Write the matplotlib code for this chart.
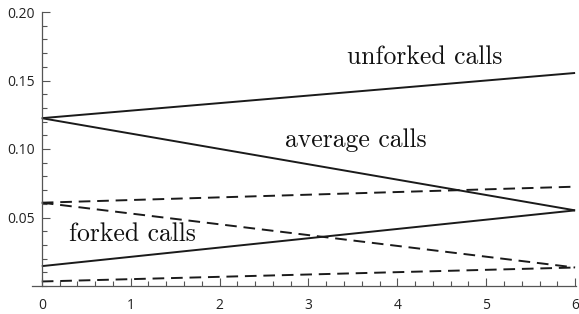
import matplotlib.pyplot as plt
from matplotlib.ticker import MultipleLocator, FormatStrFormatter

# endpoints of each line at x = 0 and x = 6
x_ends = [0, 6]
unforked = [0.1225, 0.1555]
average = [0.1225, 0.0552]
forked = [0.0145, 0.0552]
unforked_d = [0.0608, 0.0725]
average_d = [0.0608, 0.0135]
forked_d = [0.0033, 0.0135]

fig = plt.figure(figsize=(5.79, 3.14), dpi=100)
ax = fig.add_axes([32 / 579, 1 - 286 / 314, 544 / 579, 274 / 314])

for ys in (unforked, average, forked):
    ax.plot(x_ends, ys, color='#1a1a1a', lw=1.4, solid_capstyle='butt')
for ys in (unforked_d, average_d, forked_d):
    ax.plot(x_ends, ys, color='#1a1a1a', lw=1.4, dashes=(6, 3.5))

ax.set_xlim(-0.11, 6.01)
ax.set_ylim(0, 0.2)
ax.spines['top'].set_visible(False)
ax.spines['right'].set_visible(False)
ax.spines['left'].set_position(('data', 0))
for s in ('left', 'bottom'):
    ax.spines[s].set_color('#555555')
    ax.spines[s].set_linewidth(0.9)

ax.xaxis.set_major_locator(MultipleLocator(1))
ax.xaxis.set_minor_locator(MultipleLocator(0.2))
ax.yaxis.set_major_locator(MultipleLocator(0.05))
ax.yaxis.set_minor_locator(MultipleLocator(0.01))
ax.yaxis.set_major_formatter(FormatStrFormatter('%.2f'))
ax.tick_params(which='both', direction='in', color='#555555', width=0.8,
               labelsize=10, labelcolor='#222222')
ax.tick_params(which='major', length=6)
ax.tick_params(which='minor', length=3.5)
ax.tick_params(axis='x', pad=8.5)
ax.tick_params(axis='y', pad=5)
ax.set_yticks([0.05, 0.10, 0.15, 0.20])
for lab in ax.get_xticklabels() + ax.get_yticklabels():
    lab.set_family('Open Sans')

tfont = dict(family='cmr10', fontsize=18.5, color='#111111', ha='center', va='center')
ax.text(4.31, 0.1668, 'unforked calls', **tfont)
ax.text(3.53, 0.1065, 'average calls', **tfont)
ax.text(1.02, 0.0378, 'forked calls', **tfont)

fig.savefig('out.png', dpi=100)
